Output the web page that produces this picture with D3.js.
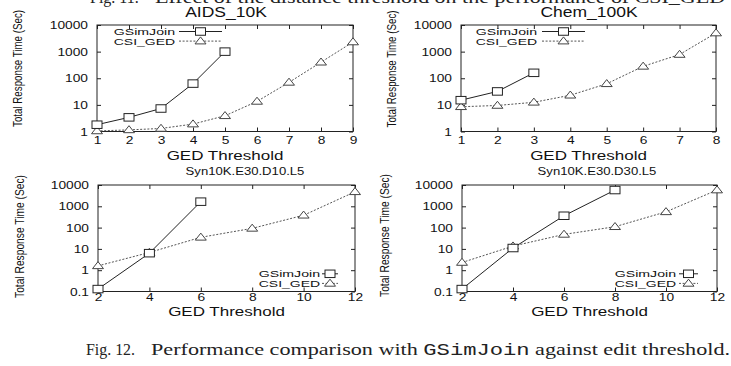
<!DOCTYPE html>
<html>
<head>
<meta charset="utf-8">
<script src="https://d3js.org/d3.v7.min.js"></script>
<style>
  body { margin: 0; background: #fff; }
  svg { display: block; }
</style>
</head>
<body>
<div id="chart"></div>
<script>
// Fig. 12 - GSimJoin vs CSI_GED, tiempo total por umbral GED (escala log)

const seriesNames = ['GSimJoin', 'CSI_GED'];

// AIDS_10K
const aidsThresholds = [1, 2, 3, 4, 5, 6, 7, 8, 9];
const aidsGSimJoin = [1.8, 3.4, 7.3, 63, 1000];
const aidsCSI = [1.05, 1.15, 1.3, 1.9, 3.9, 13.5, 70, 400, 2300];

// Chem_100K
const chemThresholds = [1, 2, 3, 4, 5, 6, 7, 8];
const chemGSimJoin = [15, 32, 160];
const chemCSI = [8.5, 9.5, 12.5, 23, 62, 280, 780, 5000];

// Syn10K.E30.D10.L5
const synThresholds = [2, 4, 6, 8, 10, 12];
const synD10GSimJoin = [0.13, 6.3, 1650];
const synD10CSI = [1.6, 6.8, 35, 92, 380, 4800];

// Syn10K.E30.D30.L5
const synD30GSimJoin = [0.13, 11, 360, 5800];
const synD30CSI = [2.3, 13.5, 48, 110, 550, 5800];

// Marcas de los ejes
const topYTicks = [1, 10, 100, 1000, 10000];
const bottomYTicks = [0.1, 1, 10, 100, 1000, 10000];

const titles = ['AIDS_10K', 'Chem_100K', 'Syn10K.E30.D10.L5', 'Syn10K.E30.D30.L5'];
const xLabel = 'GED Threshold';
const yLabel = 'Total Response Time (Sec)';

const SX = 1.25; // la figura original está estirada en horizontal
const FONT = '"Liberation Sans", Arial, Helvetica, sans-serif';
const SERIF = '"Liberation Serif", "Times New Roman", Times, serif';
const MONO = '"Liberation Mono", "Courier New", monospace';

const svg = d3.select('#chart').append('svg')
    .attr('width', 731)
    .attr('height', 366);

const pairs = (xs, vs) => vs.map((v, i) => ({ x: xs[i], v: v }));

const panels = [
    {
        title: titles[0], xDomain: [1, 9], xTicks: aidsThresholds, yDomain: [1, 10000], yTicks: topYTicks,
        left: 97, right: 353, top: 25, bottom: 131.5,
        gsim: pairs(aidsThresholds, aidsGSimJoin), csi: pairs(aidsThresholds, aidsCSI),
        titleX: 226, titleY: 17, titleSize: 14, xTickY: 13, xLabelY: 159.5,
        yLabelX: 17.5, yLabelY: 68.5, yLabelLen: 117,
        legend: { textRight: 175, x1: 179, x2: 222, y: 31.5, dy: 9.6 }
    },
    {
        title: titles[1], xDomain: [1, 8], xTicks: chemThresholds, yDomain: [1, 10000], yTicks: topYTicks,
        left: 461, right: 716, top: 25, bottom: 131.5,
        gsim: pairs(chemThresholds, chemGSimJoin), csi: pairs(chemThresholds, chemCSI),
        titleX: 589, titleY: 17, titleSize: 14, xTickY: 13, xLabelY: 159.5,
        yLabelX: 391, yLabelY: 69, yLabelLen: 117,
        legend: { textRight: 537, x1: 542, x2: 585, y: 31.5, dy: 9.6 }
    },
    {
        title: titles[2], xDomain: [2, 12], xTicks: synThresholds, yDomain: [0.1, 10000], yTicks: bottomYTicks,
        left: 98, right: 355, top: 185, bottom: 291.5,
        gsim: pairs(synThresholds, synD10GSimJoin), csi: pairs(synThresholds, synD10CSI),
        titleX: 245, titleY: 175, titleSize: 10.5, xTickY: 9, xLabelY: 316,
        yLabelX: 19.5, yLabelY: 236.5, yLabelLen: 123,
        legend: { textRight: 320, x1: 322, x2: 338, y: 273.8, dy: 9.6 }
    },
    {
        title: titles[3], xDomain: [2, 12], xTicks: synThresholds, yDomain: [0.1, 10000], yTicks: bottomYTicks,
        left: 462, right: 717, top: 185, bottom: 291.5,
        gsim: pairs(synThresholds, synD30GSimJoin), csi: pairs(synThresholds, synD30CSI),
        titleX: 597, titleY: 175, titleSize: 10.5, xTickY: 9, xLabelY: 316,
        yLabelX: 384, yLabelY: 235.5, yLabelLen: 123,
        legend: { textRight: 676, x1: 679, x2: 698, y: 273.8, dy: 9.6 }
    }
];

const styles = {
    GSimJoin: { stroke: '#222', dash: null, marker: 'square' },
    CSI_GED: { stroke: '#555', dash: '2,1.6', marker: 'triangle' }
};

function tickFmt(d) {
    return d < 1 ? String(d) : d3.format('d')(d);
}

function wideText(g, x, y, str, size, anchor) {
    return g.append('text')
        .attr('transform', `translate(${x},${y}) scale(${SX},1)`)
        .style('font-family', FONT)
        .attr('font-size', size)
        .attr('text-anchor', anchor)
        .attr('fill', '#111')
        .text(str);
}

function drawMarker(g, type, cx, cy) {
    if (type === 'square') {
        g.append('rect')
            .attr('x', cx - 5).attr('y', cy - 3.75)
            .attr('width', 10).attr('height', 7.5)
            .attr('fill', '#fff')
            .attr('stroke', '#222')
            .attr('stroke-width', 1);
    } else {
        g.append('path')
            .attr('d', `M${cx},${cy - 4.2}L${cx + 5.5},${cy + 2.8}L${cx - 5.5},${cy + 2.8}Z`)
            .attr('fill', '#fff')
            .attr('stroke', '#444')
            .attr('stroke-width', 1);
    }
}

function drawPanel(p) {
    const x = d3.scaleLinear().domain(p.xDomain).range([p.left, p.right]);
    const y = d3.scaleLog().domain(p.yDomain).range([p.bottom, p.top]);
    const g = svg.append('g');

    // Ejes (marcas hacia dentro, también arriba y a la derecha)
    const yAxis = g.append('g')
        .attr('transform', `translate(${p.left},0)`)
        .call(d3.axisLeft(y).tickValues(p.yTicks).tickSize(-4).tickFormat(tickFmt));
    yAxis.selectAll('text')
        .attr('x', -9 / SX)
        .attr('transform', `scale(${SX},1)`);

    const yAxisR = g.append('g')
        .attr('transform', `translate(${p.right},0)`)
        .call(d3.axisRight(y).tickValues(p.yTicks).tickSize(-4).tickFormat(''));

    const xAxis = g.append('g')
        .attr('transform', `translate(0,${p.bottom})`)
        .call(d3.axisBottom(x).tickValues(p.xTicks).tickSize(-4).tickFormat(d3.format('d')));
    xAxis.selectAll('text')
        .attr('x', 0)
        .attr('y', p.xTickY)
        .attr('dy', 0)
        .attr('transform', `scale(${SX},1)`);

    const xAxisT = g.append('g')
        .attr('transform', `translate(0,${p.top})`)
        .call(d3.axisTop(x).tickValues(p.xTicks).tickSize(-4).tickFormat(''));

    [yAxis, yAxisR, xAxis, xAxisT].forEach(a => {
        a.attr('font-size', 11);
        a.style('font-family', FONT);
        a.select('.domain').remove();
        a.selectAll('.tick line').attr('stroke', '#222');
        a.selectAll('text').attr('fill', '#111');
    });

    // Marco
    g.append('rect')
        .attr('x', p.left).attr('y', p.top)
        .attr('width', p.right - p.left).attr('height', p.bottom - p.top)
        .attr('fill', 'none')
        .attr('stroke', '#222')
        .attr('stroke-width', 1);

    // Series
    const line = d3.line().x(d => x(d.x)).y(d => y(d.v));
    [['CSI_GED', p.csi], ['GSimJoin', p.gsim]].forEach(([name, data]) => {
        const st = styles[name];
        g.append('path')
            .datum(data)
            .attr('d', line)
            .attr('fill', 'none')
            .attr('stroke', st.stroke)
            .attr('stroke-width', 1)
            .attr('stroke-dasharray', st.dash);
        data.forEach(d => drawMarker(g, st.marker, x(d.x), y(d.v)));
    });

    // Leyenda (texto algo más ancho que alto, como en el original)
    seriesNames.forEach((name, i) => {
        const st = styles[name];
        const ly = p.legend.y + i * p.legend.dy;
        wideText(g, p.legend.textRight, ly + 3.5, name, 9.8, 'end')
            .attr('textLength', 49)
            .attr('lengthAdjust', 'spacingAndGlyphs');
        g.append('line')
            .attr('x1', p.legend.x1).attr('x2', p.legend.x2)
            .attr('y1', ly).attr('y2', ly)
            .attr('stroke', st.stroke)
            .attr('stroke-width', 1)
            .attr('stroke-dasharray', st.dash);
        drawMarker(g, st.marker, (p.legend.x1 + p.legend.x2) / 2, ly);
    });

    // Títulos y etiquetas
    wideText(g, p.titleX, p.titleY, p.title, p.titleSize, 'middle');
    wideText(g, (p.left + p.right) / 2, p.xLabelY, xLabel, 13.6, 'middle');

    g.append('text')
        .attr('transform', `translate(${p.yLabelX},${p.yLabelY}) rotate(-90) scale(1,${SX})`)
        .style('font-family', FONT)
        .attr('font-size', 10.5)
        .attr('text-anchor', 'middle')
        .attr('dy', '0.35em')
        .attr('textLength', p.yLabelLen)
        .attr('lengthAdjust', 'spacingAndGlyphs')
        .attr('fill', '#111')
        .text(yLabel);
}

panels.forEach(drawPanel);

// Pie de figura anterior (cortado por arriba, como en el original)
svg.append('text')
    .attr('x', 90).attr('y', 3)
    .style('font-family', SERIF).attr('font-size', 16).attr('fill', '#222')
    .text('Fig. 11.');
svg.append('text')
    .attr('x', 155).attr('y', 3)
    .style('font-family', SERIF).attr('font-size', 16).attr('fill', '#222')
    .attr('textLength', 570).attr('lengthAdjust', 'spacingAndGlyphs')
    .text('Effect of the distance threshold on the performance of CSI_GED');

// Pie de esta figura
svg.append('text')
    .attr('x', 86).attr('y', 355)
    .style('font-family', SERIF).attr('font-size', 16).attr('fill', '#222')
    .attr('textLength', 49).attr('lengthAdjust', 'spacingAndGlyphs')
    .text('Fig. 12.');
const cap = svg.append('text')
    .attr('x', 151).attr('y', 355)
    .style('font-family', SERIF).attr('font-size', 16).attr('fill', '#222')
    .attr('textLength', 579).attr('lengthAdjust', 'spacingAndGlyphs');
cap.append('tspan').text('Performance comparison with ');
cap.append('tspan').style('font-family', MONO).text('GSimJoin');
cap.append('tspan').text(' against edit threshold.');
</script>
</body>
</html>
